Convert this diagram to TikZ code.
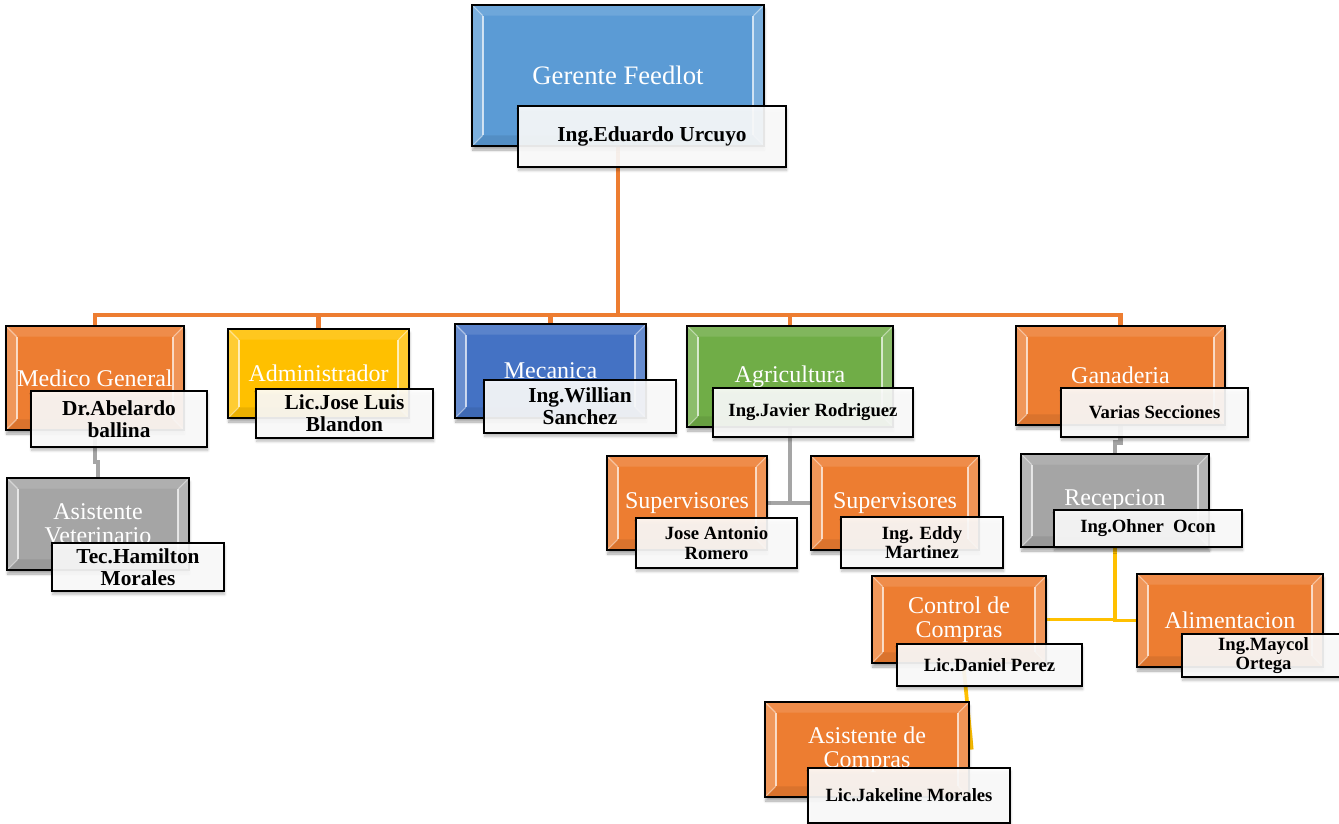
\documentclass[tikz,border=0pt]{standalone}
\usepackage{fontspec}
\setmainfont{Liberation Serif}
\usetikzlibrary{calc,backgrounds,shadows.blur}

\definecolor{cBlue}{HTML}{5B9BD5}
\definecolor{cOrange}{HTML}{ED7D31}
\definecolor{cYellow}{HTML}{FFC000}
\definecolor{cDBlue}{HTML}{4472C4}
\definecolor{cGreen}{HTML}{70AD47}
\definecolor{cGray}{HTML}{A5A5A5}

\tikzset{
  bevel/.style={path picture={
    \coordinate (pa) at (path picture bounding box.south west);
    \coordinate (pb) at (path picture bounding box.north east);
    \coordinate (pc) at (pa|-pb);
    \coordinate (pd) at (pb|-pa);
    \fill[white,opacity=0.20] (pa) -- ++(8pt,8pt) -- ($(pc)+(8pt,-8pt)$) -- (pc) -- cycle;
    \fill[white,opacity=0.18] (pd) -- ++(-8pt,8pt) -- ($(pb)+(-8pt,-8pt)$) -- (pb) -- cycle;
    \fill[white,opacity=0.12] (pc) -- ++(8pt,-8pt) -- ($(pb)+(-8pt,-8pt)$) -- (pb) -- cycle;
    \fill[black,opacity=0.08] (pa) -- ++(8pt,8pt) -- ($(pd)+(-8pt,8pt)$) -- (pd) -- cycle;
    \draw[white,opacity=0.7,line width=1.4pt] ($(pa)+(8pt,8pt)$) -- ($(pc)+(8pt,-8pt)$);
    \draw[white,opacity=0.7,line width=1.4pt] ($(pd)+(-8pt,8pt)$) -- ($(pb)+(-8pt,-8pt)$);
    \draw[white,opacity=0.45,line width=0.8pt] (pa) -- ++(8pt,8pt) (pc) -- ++(8pt,-8pt) (pb) -- ++(-8pt,-8pt) (pd) -- ++(-8pt,8pt);
  }},
  orgbox/.style={draw=black, line width=1.1pt, fill=#1, text=white, align=center,
    inner sep=0pt, font=\fontsize{18}{18}\selectfont,
    blur shadow={shadow xshift=0.5pt, shadow yshift=-3pt, shadow blur steps=6, shadow opacity=35},
    bevel},
  namebox/.style={draw=black, line width=1.1pt, fill=white, fill opacity=0.9, text opacity=1,
    text=black, align=center, inner sep=0pt,
    blur shadow={shadow xshift=0.5pt, shadow yshift=-2.5pt, shadow blur steps=6, shadow opacity=30}},
  bigname/.style={namebox, font=\bfseries\fontsize{16}{16.5}\selectfont},
  smallname/.style={namebox, font=\bfseries\fontsize{14}{14.5}\selectfont},
  orgline/.style={draw=cOrange, line width=3.3pt},
  grayline/.style={draw=cGray, line width=3.3pt},
  yelline/.style={draw=cYellow, line width=2.8pt},
}

\newcommand\bx[7]{\node[#6, minimum width={(#4-#2)*0.75pt}, minimum height={(#5-#3)*0.75pt}] (#1) at ({(#2+#4)/2},{(#3+#5)/2}) {#7};}

\begin{document}
\begin{tikzpicture}[x=0.75pt,y=-0.75pt]
\useasboundingbox (0,0) rectangle (1339,824);
\coordinate (bus) at (0,315);

% top
\bx{gerente}{472}{5}{764}{146}{orgbox=cBlue,font=\fontsize{20}{20}\selectfont}{Gerente Feedlot}
\bx{eduardo}{518}{106}{786}{167}{bigname}{Ing.Eduardo Urcuyo}

% level 2
\bx{medico}{6}{326}{184}{430}{orgbox=cOrange}{Medico General}
\bx{abelardo}{31}{391}{207}{447}{bigname}{Dr.Abelardo\\ballina}
\bx{admin}{228}{329}{409}{418}{orgbox=cYellow}{Administrador}
\bx{joseluis}{256}{389}{433}{438}{bigname}{Lic.Jose Luis\\Blandon}
\bx{mecanica}{455}{324}{646}{418}{orgbox=cDBlue}{Mecanica}
\bx{willian}{484}{380}{676}{433}{bigname}{Ing.Willian\\Sanchez}
\bx{agri}{687}{326}{893}{427}{orgbox=cGreen}{Agricultura}
\bx{javier}{713}{388}{913}{437}{smallname}{Ing.Javier Rodriguez}
\bx{ganaderia}{1016}{326}{1225}{425}{orgbox=cOrange}{Ganaderia}
\bx{varias}{1061}{388}{1248}{437}{smallname}{Varias Secciones}

% level 3
\bx{asisvet}{7}{478}{189}{570}{orgbox=cGray}{Asistente\\Veterinario}
\bx{hamilton}{52}{543}{224}{591}{bigname}{Tec.Hamilton\\Morales}
\bx{sup1}{607}{456}{767}{550}{orgbox=cOrange}{Supervisores}
\bx{joseantonio}{636}{518}{797}{568}{smallname}{Jose Antonio\\Romero}
\bx{sup2}{811}{456}{979}{550}{orgbox=cOrange}{Supervisores}
\bx{eddy}{841}{517}{1003}{568}{smallname}{Ing. Eddy\\Martinez}
\bx{recep}{1021}{454}{1209}{547}{orgbox=cGray}{Recepcion}
\bx{ohner}{1054}{510}{1242}{547}{smallname}{Ing.Ohner~ Ocon}

% level 4
\bx{control}{872}{576}{1046}{663}{orgbox=cOrange}{Control de\\Compras}
\bx{daniel}{897}{644}{1082}{686}{smallname}{Lic.Daniel Perez}
\bx{alim}{1137}{574}{1323}{667}{orgbox=cOrange}{Alimentacion}
\bx{maycol}{1182}{634}{1345}{677}{smallname}{Ing.Maycol\\Ortega}

% level 5
\bx{asiscomp}{765}{702}{969}{797}{orgbox=cOrange}{Asistente de\\Compras}
\bx{jakeline}{808}{768}{1010}{823}{smallname}{Lic.Jakeline Morales}

\begin{scope}[on background layer]
  \draw[orgline] (gerente.center) -- (gerente |- bus);
  \foreach \n in {medico,admin,mecanica,agri,ganaderia}
    \draw[orgline] (\n.north) |- (bus -| gerente);
  \draw[grayline] (medico.center) -- ++(0,84) -| (asisvet.north);
  \draw[grayline] (agri.center) |- (sup1.east);
  \draw[grayline] (agri.center) |- (sup2.west);
  \draw[grayline] (ganaderia.center) -- ++(0,67) -| (recep.north);
  \draw[yelline] (recep.center) |- (control.east);
  \draw[yelline] (recep.center) |- (alim.west);
  \draw[yelline] (control.center) -- ($(asiscomp.east)+(2,0)$);
\end{scope}
\end{tikzpicture}
\end{document}
